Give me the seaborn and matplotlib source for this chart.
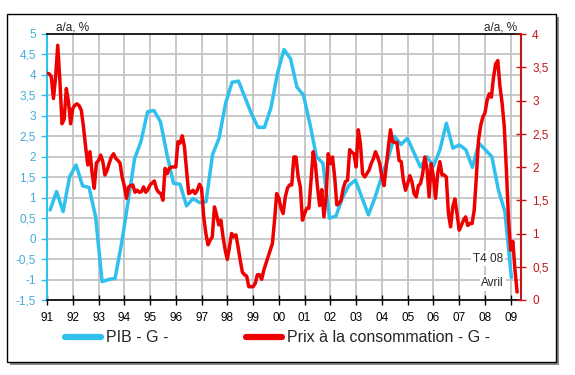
import numpy as np
import pandas as pd
import matplotlib
matplotlib.use("Agg")
import matplotlib.pyplot as plt
from matplotlib.lines import Line2D
from matplotlib.patches import Rectangle
import seaborn as sns

## Daten
# PIB (G), glissement annuel trimestriel, 1991T1 - 2008T4
pib = [0.70, 1.15, 0.66, 1.51,
       1.80, 1.29, 1.25, 0.54,
       -1.05, -1.00, -0.97, -0.12,
       0.90, 1.95, 2.38, 3.10,
       3.13, 2.85, 2.05, 1.35,
       1.33, 0.80, 0.98, 0.88,
       0.90, 2.05, 2.45, 3.30,
       3.82, 3.85, 3.45, 3.05,
       2.72, 2.72, 3.20, 4.04,
       4.62, 4.40, 3.70, 3.51,
       2.80, 2.00, 1.84, 0.50,
       0.55, 1.00, 1.30, 1.43,
       1.00, 0.58, 1.00, 1.50,
       1.95, 2.50, 2.30, 2.45,
       2.10, 1.75, 2.00, 1.77,
       2.17, 2.82, 2.21, 2.29,
       2.17, 1.74, 2.33, 2.17,
       2.00, 1.19, 0.66, -0.95]

# Prix a la consommation (G), glissement annuel mensuel, 1991-01 - 2009-04
prix = [3.41, 3.40, 3.36, 3.03, 3.35, 3.83, 3.30, 2.65, 2.72, 3.18, 2.98, 2.65,
        2.88, 2.93, 2.95, 2.92, 2.85, 2.60, 2.30, 2.03, 2.23, 1.91, 1.68, 2.06,
        2.10, 2.18, 2.08, 1.88, 1.95, 2.06, 2.15, 2.20, 2.13, 2.10, 2.06, 1.85,
        1.72, 1.53, 1.70, 1.72, 1.73, 1.62, 1.65, 1.62, 1.63, 1.70, 1.62, 1.66,
        1.73, 1.76, 1.79, 1.67, 1.62, 1.60, 1.50, 1.98, 1.90, 1.98, 2.00, 2.00,
        2.00, 2.38, 2.36, 2.47, 2.31, 1.95, 1.60, 1.62, 1.65, 1.60, 1.65, 1.74,
        1.68, 1.25, 1.00, 0.83, 0.90, 0.95, 1.40, 1.28, 1.13, 1.20, 0.95, 0.75,
        0.61, 0.80, 1.00, 0.95, 0.98, 0.80, 0.60, 0.42, 0.38, 0.36, 0.20, 0.20,
        0.20, 0.25, 0.38, 0.38, 0.31, 0.45, 0.55, 0.65, 0.75, 0.85, 1.20, 1.60,
        1.53, 1.38, 1.30, 1.55, 1.68, 1.73, 1.73, 2.15, 2.15, 1.85, 1.70, 1.20,
        1.30, 1.38, 1.38, 1.80, 2.23, 2.05, 1.70, 1.42, 1.66, 1.25, 1.55, 2.20,
        2.05, 2.15, 1.85, 1.43, 1.45, 1.50, 1.68, 1.78, 1.80, 2.26, 2.22, 2.20,
        2.00, 2.56, 2.35, 1.90, 1.85, 1.90, 1.95, 2.05, 2.12, 2.23, 2.15, 2.05,
        1.85, 1.72, 2.00, 2.30, 2.56, 2.38, 2.37, 2.37, 2.10, 2.08, 1.80, 1.65,
        1.75, 1.87, 1.78, 1.60, 1.55, 1.72, 1.75, 1.90, 2.15, 1.98, 1.55, 2.05,
        1.85, 1.53, 1.90, 2.08, 1.88, 1.88, 1.85, 1.30, 1.10, 1.40, 1.52, 1.30,
        1.05, 1.12, 1.20, 1.25, 1.12, 1.15, 1.15, 1.35, 1.85, 2.40, 2.62, 2.75,
        2.81, 3.00, 3.10, 3.05, 3.35, 3.55, 3.60, 3.21, 2.96, 2.61, 1.95, 1.20,
        0.75, 0.88, 0.45, 0.12]

annees = list(range(1991, 2010))
labels_x = [f"{a % 100:02d}" for a in annees]
ticks_g = np.arange(-1.5, 5.01, 0.5)
ticks_d = np.arange(0, 4.01, 0.5)

# positions (annees decimales)
mois = pd.date_range("1991-01-01", periods=len(prix), freq="MS")
x_prix = mois.year + (mois.month - 1) / 12
x_pib = 1991.12 + np.arange(len(pib)) * 0.2522

df_pib = pd.DataFrame({"t": x_pib, "v": pib})
df_prix = pd.DataFrame({"t": x_prix, "v": prix})

## Grafik
sns.set_style("white")
plt.rcParams["font.family"] = ["Liberation Sans", "DejaVu Sans"]

BLEU = "#2fc0ee"
BLEU_TXT = "#45acd8"
ROUGE = "#ee0000"
ROUGE_AX = "#c01818"

fig = plt.figure(figsize=(5.75, 3.75), dpi=100)
W, H = 575, 375

# cadre avec ombre
fig.patches.append(Rectangle((10 / W, 1 - 365 / H), 549 / W, 348 / H, transform=fig.transFigure,
                             fc="#8a8a8a", ec="none", zorder=-3))
fig.patches.append(Rectangle((7 / W, 1 - 362 / H), 549 / W, 348 / H, transform=fig.transFigure,
                             fc="white", ec="black", lw=1.0, zorder=-2))

ax = fig.add_axes([47 / W, 1 - 300 / H, 474 / W, 266 / H])
ax.patch.set_alpha(0)
ax2 = ax.twinx()

sns.lineplot(data=df_pib, x="t", y="v", ax=ax, color=BLEU, lw=2.5, legend=False)
sns.lineplot(data=df_prix, x="t", y="v", ax=ax2, color=ROUGE, lw=2.5, legend=False)

ax.set_xlim(1991, 2009.4)
ax.set_ylim(-1.5, 5)
ax2.set_ylim(0, 4)

ax.set_xticks(annees)
ax.set_xticklabels(labels_x)
ax.set_yticks(ticks_g)
ax.set_yticklabels([f"{v:g}".replace(".", ",") for v in ticks_g])
ax2.set_yticks(ticks_d)
ax2.set_yticklabels([f"{v:g}".replace(".", ",") for v in ticks_d])
ax.set_xlabel("")
ax.set_ylabel("")
ax2.set_ylabel("")

ax.grid(True, color="#c4c4c4", lw=1.3)
ax.set_axisbelow(True)

for s in ["left", "bottom", "top"]:
    ax2.spines[s].set_visible(False)
ax.spines["right"].set_visible(False)
ax.spines["left"].set_color(BLEU)
ax.spines["left"].set_linewidth(1.5)
ax.spines["bottom"].set_color("black")
ax.spines["bottom"].set_linewidth(1.2)
ax.spines["top"].set_color("black")
ax.spines["top"].set_linewidth(1.2)
ax2.spines["right"].set_color(ROUGE_AX)
ax2.spines["right"].set_linewidth(1.5)

ax.tick_params(axis="y", direction="out", length=4, width=1, color=BLEU,
               labelcolor=BLEU_TXT, labelsize=8.5, pad=4, left=True)
ax.tick_params(axis="x", direction="inout", length=7, width=1, color="black",
               labelcolor="black", labelsize=8.5, pad=5, bottom=True)
ax2.tick_params(axis="y", direction="inout", length=7, width=1, color=ROUGE_AX,
                labelcolor=ROUGE_AX, labelsize=8.5, pad=4.5, right=True)

fig.text(56 / W, 1 - 31 / H, "a/a, %", fontsize=8.5, va="baseline", ha="left")
fig.text(517 / W, 1 - 31 / H, "a/a, %", fontsize=8.5, va="baseline", ha="right")

boite = dict(boxstyle="square,pad=0.15", fc="white", ec="none")
ax.text(2008.70, -0.49, "T4 08", fontsize=8.5, ha="right", va="center", bbox=boite, zorder=3)
ax.text(2008.74, -1.085, "Avril", fontsize=8.5, ha="right", va="center", bbox=boite, zorder=3)

handles = [Line2D([], [], color=BLEU, lw=4.5), Line2D([], [], color=ROUGE, lw=4.5)]
fig.legend(handles, ["PIB - G -", "Prix à la consommation - G -"], loc="center left",
           bbox_to_anchor=(65 / W, 1 - 338 / H), ncol=2, frameon=False, fontsize=11.5,
           handlelength=2.25, handletextpad=0.3, columnspacing=4.9,
           borderpad=0, borderaxespad=0)

fig.savefig("out.png", dpi=100)
